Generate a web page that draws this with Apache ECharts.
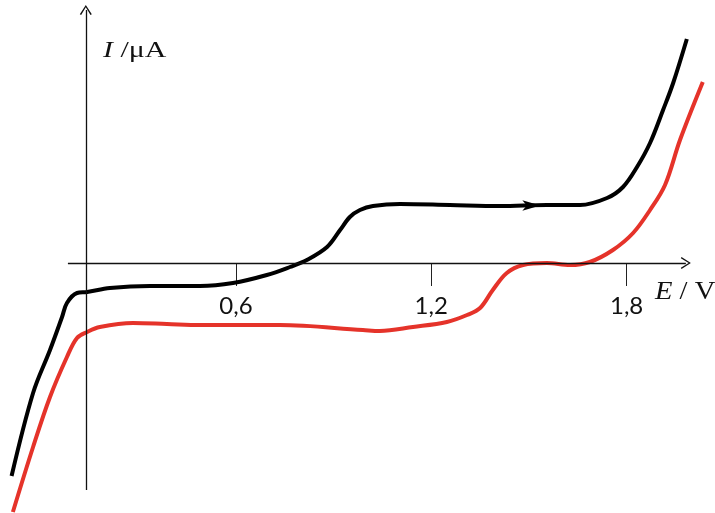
<!DOCTYPE html>
<html>
<head>
<meta charset="utf-8">
<script src="https://cdn.jsdelivr.net/npm/echarts@6/dist/echarts.min.js"></script>
<style>html,body{margin:0;padding:0;background:#fff}#c{width:715px;height:513px}</style>
</head>
<body>
<div id="c"></div>
<script>
// Potential E (V) and current I (arbitrary µA units)
const blackE = [-0.089,-0.023,0.029,0.066,0.081,0.112,0.143,0.213,0.336,0.490,0.591,0.695,0.766,0.818,0.880,0.920,0.950,0.981,1.021,1.104,1.257,1.411,1.555,1.657,1.740,1.789,1.832,1.872,1.912,1.943,1.985];
const blackI = [-2.13,-1.30,-0.87,-0.54,-0.40,-0.30,-0.29,-0.25,-0.23,-0.23,-0.20,-0.12,-0.04,0.03,0.16,0.33,0.46,0.53,0.57,0.59,0.58,0.57,0.58,0.58,0.65,0.76,0.96,1.20,1.53,1.80,2.24];
const redE = [-0.085,-0.023,0.029,0.081,0.112,0.143,0.182,0.284,0.388,0.490,0.735,0.990,1.042,1.144,1.248,1.310,1.350,1.389,1.432,1.482,1.555,1.626,1.687,1.758,1.820,1.872,1.918,1.964,2.034];
const redI = [-2.49,-1.84,-1.34,-0.94,-0.75,-0.69,-0.64,-0.60,-0.61,-0.62,-0.62,-0.67,-0.68,-0.64,-0.59,-0.52,-0.45,-0.27,-0.10,-0.02,0.00,-0.02,0.01,0.13,0.30,0.53,0.78,1.23,1.81];
const tickValues = [0.6, 1.2, 1.8];
const xAxisLine = [[0.084, 0], [1.982, 0]];
const yAxisLine = [[0.139, -2.27], [0.139, 2.53]];
const sweepArrow = [1.535, 0.575];

const zip = (a, b) => a.map((v, i) => [v, b[i]]);
const chevron = 'path://M0,10 L5,0 L10,10 L8.9,10.7 L5,2.4 L1.1,10.7 Z';

const chart = echarts.init(document.getElementById('c'), null, {renderer: 'canvas'});
chart.setOption({
  animation: false,
  backgroundColor: '#fff',
  grid: {left: 8, right: 7, top: 3, bottom: 0, containLabel: false, outerBoundsMode: 'none'},
  xAxis: {
    type: 'value', min: -0.1, max: 2.05, position: 'bottom', offset: -250,
    axisLine: {show: false, onZero: false},
    splitLine: {show: false},
    axisTick: {show: true, customValues: tickValues, length: 23, lineStyle: {color: '#222', width: 1}},
    axisLabel: {show: true, customValues: tickValues, margin: 31, fontFamily: 'Lato', fontSize: 24, color: '#111',
      formatter: v => v.toFixed(1).replace('.', ',')}
  },
  yAxis: {
    type: 'value', min: -2.5, max: 2.6,
    axisLine: {show: false}, axisTick: {show: false}, axisLabel: {show: false}, splitLine: {show: false}
  },
  graphic: [
    {type: 'text', x: 103, y: 51, scaleX: 1.3, style: {
      text: '{i|I} /μA', font: '23px "Liberation Serif"', fill: '#111', verticalAlign: 'middle',
      rich: {i: {fontFamily: 'Liberation Serif', fontStyle: 'italic', fontSize: 23, fill: '#111'}}}},
    {type: 'text', x: 655, y: 292, scaleX: 1.1, style: {
      text: '{i|E} / V', font: '26px "Liberation Serif"', fill: '#111', verticalAlign: 'middle',
      rich: {i: {fontFamily: 'Liberation Serif', fontStyle: 'italic', fontSize: 26, fill: '#111'}}}}
  ],
  series: [
    {
      type: 'line', data: [], silent: true,
      markLine: {
        silent: true, animation: false,
        symbol: ['none', chevron], symbolSize: [12, 10],
        label: {show: false},
        lineStyle: {color: '#111', width: 1.3, type: 'solid'},
        data: [
          [{coord: xAxisLine[0]}, {coord: xAxisLine[1]}],
          [{coord: yAxisLine[0]}, {coord: yAxisLine[1]}]
        ]
      }
    },
    {
      type: 'line', data: zip(redE, redI), smooth: 0.35, showSymbol: false,
      lineStyle: {color: '#e5332a', width: 4}, itemStyle: {color: '#e5332a'}
    },
    {
      type: 'line', data: zip(blackE, blackI), smooth: 0.35, showSymbol: false,
      lineStyle: {color: '#000', width: 4}, itemStyle: {color: '#000'},
      markPoint: {
        silent: true, label: {show: false},
        symbol: 'arrow', symbolRotate: -90, symbolSize: [8, 18],
        itemStyle: {color: '#000'},
        data: [{coord: sweepArrow}]
      }
    }
  ]
});
</script>
</body>
</html>
